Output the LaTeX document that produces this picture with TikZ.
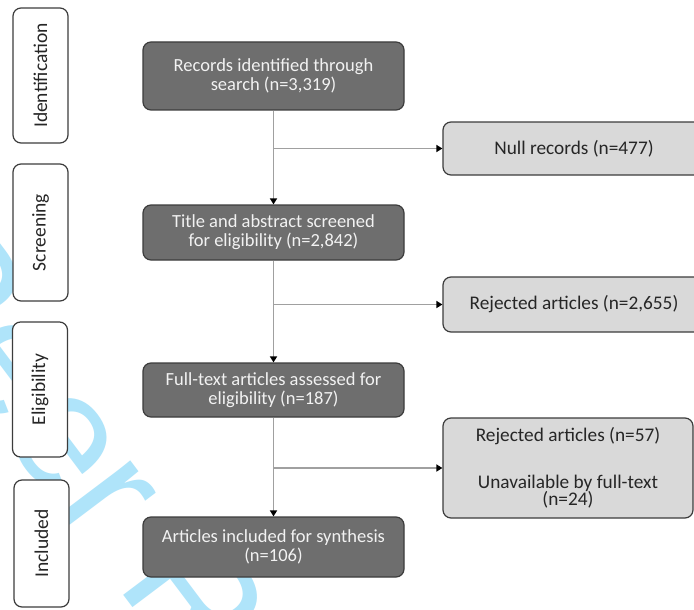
\documentclass[tikz,border=0pt]{standalone}
\usepackage{fontspec}
\setmainfont{Carlito}
\newfontfamily\wmfont{Liberation Sans}
\usetikzlibrary{arrows.meta}
\definecolor{darkbox}{RGB}{110,110,110}
\definecolor{edgecol}{RGB}{60,60,60}
\definecolor{lightbox}{RGB}{217,217,217}
\definecolor{conn}{RGB}{160,160,160}
\definecolor{wmcol}{RGB}{175,228,250}
\definecolor{lighttext}{RGB}{242,242,242}
\definecolor{darktext}{RGB}{38,38,38}
\begin{document}
\begin{tikzpicture}[x=1pt,y=-1pt,
  stagebox/.style={draw=edgecol, line width=1.2pt, fill=white, rounded corners=8pt,
    minimum height=55pt, inner sep=0pt, rotate=90, text=darktext,
    font=\fontsize{19.5}{21}\selectfont},
  mainbox/.style={draw=edgecol, line width=1.2pt, fill=darkbox, rounded corners=8pt,
    minimum width=261pt, align=center, inner sep=0pt, text=lighttext,
    font=\fontsize{18.5}{19}\selectfont},
  sidebox/.style={draw=edgecol, line width=1.2pt, fill=lightbox, rounded corners=8pt,
    align=center, inner sep=0pt, text=darktext,
    font=\fontsize{19.3}{17.5}\selectfont},
  flow/.style={draw=conn, line width=1.8pt},
  arr/.style={flow, -{Triangle[length=6pt,width=7pt,black]}},
  wmtext/.style={text=wmcol, inner sep=0pt, rotate=-53, anchor=base west,
    font=\wmfont\fontsize{165}{165}\selectfont}]
\clip (0,0) rectangle (694,610);
\fill[white] (0,0) rectangle (694,610);
% watermark
\node[wmtext] (wm) at (-122,270) {Peer Review};
% stage labels
\node[stagebox, minimum width=135pt] (lid) at (40.5,75.5) {Identification};
\node[stagebox, minimum width=137pt] (lsc) at (40.5,232.5) {Screening};
\node[stagebox, minimum width=135pt] (lel) at (40,389.5) {Eligibility};
\node[stagebox, minimum width=127pt] (lin) at (41.5,543.5) {Included};
% main boxes
\node[mainbox, minimum height=68pt] (b1) at (273.5,76) {Records identified through\\search (n=3,319)};
\node[mainbox, minimum height=55pt] (b2) at (273.5,232.5) {Title and abstract screened\\for eligibility (n=2,842)};
\node[mainbox, minimum height=54pt] (b3) at (273.5,390) {Full-text articles assessed for\\eligibility (n=187)};
\node[mainbox, minimum height=60pt] (b4) at (273.5,547) {Articles included for synthesis\\(n=106)};
% side boxes
\node[sidebox, minimum width=262pt, minimum height=53pt] (r1) at (574,148.5) {Null records (n=477)};
\node[sidebox, minimum width=262pt, minimum height=55pt] (r2) at (574,304.5) {Rejected articles (n=2,655)};
\node[sidebox, minimum width=250pt, minimum height=100pt] (r3) at (568,468) {Rejected articles (n=57)\\[29pt]Unavailable by full-text\\(n=24)};
% connectors
\draw[arr] (b1) -- (b2);
\draw[arr] (b2) -- (b3);
\draw[arr] (b3) -- (b4);
\draw[arr] (b1.south |- r1.west) -- (r1.west);
\draw[arr] (b2.south |- r2.west) -- (r2.west);
\draw[arr] (b3.south |- r3.west) -- (r3.west);
\end{tikzpicture}
\end{document}
